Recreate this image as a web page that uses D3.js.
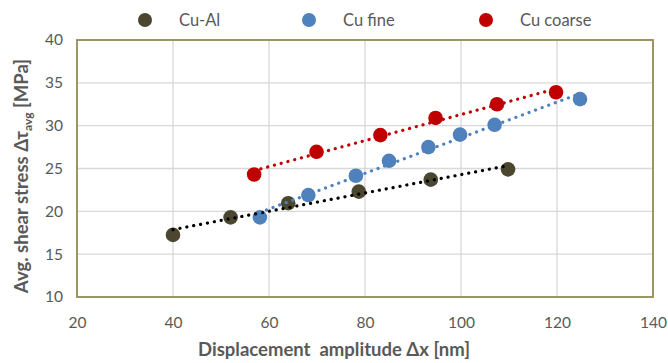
<!DOCTYPE html>
<html><head><meta charset="utf-8">
<script src="https://cdn.jsdelivr.net/npm/d3@7"></script>
<style>body{margin:0;background:#fff}svg{display:block}</style>
</head><body>
<svg id="c" width="668" height="363"></svg>
<script>
const seriesNames = ["Cu-Al", "Cu fine", "Cu coarse"];
const seriesColors = ["#4b4630", "#4f81bd", "#c00000"];
const trendColors = ["#000000", "#4f81bd", "#c00000"];
const cuAlX = [40, 52, 64, 78.7, 93.7, 109.8];
const cuAlY = [17.25, 19.3, 20.95, 22.3, 23.7, 24.9];
const cuFineX = [58.1, 68.2, 78.1, 85, 93.2, 99.8, 107, 124.8];
const cuFineY = [19.3, 21.9, 24.15, 25.9, 27.5, 28.95, 30.1, 33.1];
const cuCoarseX = [56.9, 69.9, 83.2, 94.7, 107.5, 119.8];
const cuCoarseY = [24.3, 26.95, 28.9, 30.9, 32.5, 33.9];
const xTicks = [20, 40, 60, 80, 100, 120, 140];
const yTicks = [10, 15, 20, 25, 30, 35, 40];

const seriesX = [cuAlX, cuFineX, cuCoarseX];
const seriesY = [cuAlY, cuFineY, cuCoarseY];

const svg = d3.select("#c");
const font = "Lato, 'Open Sans', sans-serif";
const L = 77, R = 653, T = 40, B = 297;
const x = d3.scaleLinear().domain([20, 140]).range([L, R]);
const y = d3.scaleLinear().domain([10, 40]).range([B, T]);

// gridlines
svg.append("g").selectAll("line").data(xTicks.slice(1, -1)).join("line")
  .attr("x1", d => x(d)).attr("x2", d => x(d)).attr("y1", T).attr("y2", B)
  .attr("stroke", "#d9d9d9").attr("stroke-width", 1.3);
svg.append("g").selectAll("line").data(yTicks.slice(1, -1)).join("line")
  .attr("y1", d => y(d)).attr("y2", d => y(d)).attr("x1", L).attr("x2", R)
  .attr("stroke", "#d9d9d9").attr("stroke-width", 1.3);

// frame
svg.append("rect").attr("x", L).attr("y", T).attr("width", R - L).attr("height", B - T)
  .attr("fill", "none").attr("stroke", "#948a54").attr("stroke-width", 1.8);

// axes tick labels
const xAxis = d3.axisBottom(x).tickValues(xTicks).tickSize(0).tickPadding(20);
const gx = svg.append("g").attr("transform", `translate(0,${B})`).call(xAxis);
gx.select(".domain").remove();
gx.selectAll("text").attr("font-family", font).attr("font-size", 15.5).attr("fill", "#595959");

const yAxis = d3.axisLeft(y).tickValues(yTicks).tickSize(0).tickPadding(14);
const gy = svg.append("g").attr("transform", `translate(${L},0)`).call(yAxis);
gy.select(".domain").remove();
gy.selectAll("text").attr("font-family", font).attr("font-size", 15.5).attr("fill", "#595959");

// markers
seriesNames.forEach((n, i) => {
  const pts = seriesX[i].map((v, j) => [v, seriesY[i][j]]);
  svg.append("g").selectAll("circle").data(pts).join("circle")
    .attr("cx", d => x(d[0])).attr("cy", d => y(d[1])).attr("r", 7.3)
    .attr("fill", seriesColors[i]);
});

// linear trendlines (least squares)
seriesNames.forEach((n, i) => {
  const xs = seriesX[i], ys = seriesY[i];
  const mx = d3.mean(xs), my = d3.mean(ys);
  const b = d3.sum(xs.map((v, j) => (v - mx) * (ys[j] - my))) / d3.sum(xs.map(v => (v - mx) ** 2));
  const a = my - b * mx;
  const x0 = d3.min(xs), x1 = d3.max(xs);
  svg.append("line")
    .attr("x1", x(x0)).attr("y1", y(a + b * x0)).attr("x2", x(x1)).attr("y2", y(a + b * x1))
    .attr("stroke", trendColors[i]).attr("stroke-width", 3.2)
    .attr("stroke-linecap", "round").attr("stroke-dasharray", "0.1 6.9");
});

// legend
const legX = [145, 309, 486];
seriesNames.forEach((n, i) => {
  svg.append("circle").attr("cx", legX[i]).attr("cy", 20).attr("r", 7).attr("fill", seriesColors[i]);
  svg.append("text").attr("x", legX[i] + 34).attr("y", 26).text(n)
    .attr("font-family", font).attr("font-size", 16.5).attr("fill", "#595959");
});

// axis titles
svg.append("text").attr("x", 334).attr("y", 356).attr("text-anchor", "middle")
  .style("white-space", "pre")
  .attr("font-family", font).attr("font-size", 18.5).attr("font-weight", "bold").attr("fill", "#595959")
  .text("Displacement  amplitude Δx [nm]");

const yt = svg.append("text").attr("transform", "translate(28,176) rotate(-90)")
  .attr("text-anchor", "middle").attr("font-family", font).attr("font-size", 18.5)
  .attr("font-weight", "bold").attr("fill", "#595959");
yt.append("tspan").text("Avg. shear stress Δτ");
yt.append("tspan").attr("font-size", 12).attr("dy", 4).text("avg");
yt.append("tspan").attr("dy", -4).text(" [MPa]");
</script>
</body></html>
